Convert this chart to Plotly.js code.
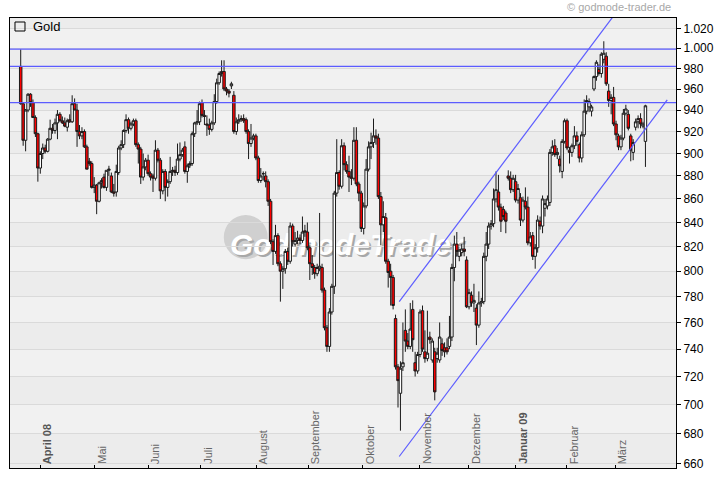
<!DOCTYPE html>
<html>
<head>
<meta charset="utf-8">
<script src="https://cdn.plot.ly/plotly-3.0.1.min.js"></script>
<style>
  html, body { margin: 0; padding: 0; background: #ffffff; }
  #chart { width: 720px; height: 481px; }
</style>
</head>
<body>
<div id="chart"></div>
<script>
// ---- Gold daily candles, March 2008 – March 2009 ----
const openVals = [
  982,946,912,940,955,947,933,918,887,900,905,902,913,923,921,928,936,930,928,924,
  931,929,946,940,920,916,920,906,893,891,870,872,858,874,879,870,885,880,866,866,
  883,905,908,921,931,923,927,930,908,904,879,888,894,882,880,878,903,894,867,884,
  870,875,884,885,883,895,899,906,884,889,891,918,928,929,947,935,927,926,922,928,
  948,966,975,977,960,958,963,
  954,920,929,931,932,931,920,909,914,916,896,876,882,880,875,858,824,816,829,806,
  800,802,816,808,837,822,825,827,825,833,832,819,806,803,798,802,803,785,756,742,
  768,788,865,883,871,
  907,890,884,879,878,912,873,865,835,854,886,906,910,916,914,862,838,844,808,800,
  795,763,727,708,727,754,746,742,770,730,724,736,769,738,733,749,732,738,733,732,
  744,741,741,742,749,
  803,822,812,815,818,809,772,781,775,771,758,775,776,812,822,837,839,860,866,853,
  851,848,880,878,868,875,859,861,842,858,853,823,829,812,819,841,837,852,854,857,
  901,907,899,895,884,
  911,930,903,901,907,916,908,896,917,939,943,939,960,972,979,975,989,992,958,949,
  952,927,916,906,914,937,936,916,901,924,929,932,925,911
];
const highVals = [
  999,947,941,956,956,950,935,919,902,909,908,914,931,927,932,940,938,934,933,932,
  936,954,951,946,926,924,922,908,896,893,879,873,875,878,882,885,889,883,873,890,
  907,912,922,936,933,929,932,932,910,906,900,896,899,884,882,912,905,896,886,886,
  877,897,888,889,909,910,905,911,891,893,920,929,940,948,950,940,935,932,930,955,
  970,977,988,988,962,960,967,
  958,933,936,935,936,933,922,927,918,918,898,887,884,884,877,860,826,838,831,808,
  804,818,819,840,839,832,833,830,845,838,840,821,813,805,806,848,806,787,758,771,
  790,867,913,885,913,
  910,893,898,886,924,924,875,867,857,895,911,919,932,922,918,866,858,848,810,806,
  797,766,729,731,760,770,752,775,777,738,738,770,773,754,769,753,748,741,741,760,
  748,745,748,765,806,
  829,832,818,822,828,812,786,784,790,774,784,779,815,832,840,842,869,884,881,856,
  854,850,885,884,881,881,873,865,862,870,862,832,832,822,846,845,863,860,863,904,
  912,913,905,898,913,
  932,932,906,909,925,920,910,920,950,954,951,945,973,988,984,996,1007,996,965,955,
  962,930,918,917,941,945,940,918,913,932,935,937,929,945
];
const lowVals = [
  945,907,902,938,943,933,915,875,882,895,900,901,912,918,918,913,929,927,924,920,
  928,928,940,906,913,913,905,886,889,869,865,847,857,869,869,867,880,865,862,862,
  881,903,905,919,918,921,925,906,891,873,876,885,880,876,866,876,892,860,864,858,
  862,873,880,880,881,893,897,882,874,887,889,915,926,926,933,926,916,917,920,926,
  946,964,972,958,954,952,960,
  918,917,927,929,928,918,895,906,912,894,874,874,876,870,854,822,805,814,804,776,
  786,798,805,806,820,820,822,822,823,828,817,793,797,794,796,800,783,754,738,738,
  766,782,862,868,869,
  885,882,866,872,876,871,858,832,830,852,884,895,905,908,860,821,832,806,787,773,
  770,725,698,682,724,738,740,740,738,720,722,734,738,730,731,744,730,703,730,730,
  735,734,736,740,746,
  792,812,808,812,812,771,770,772,768,743,756,772,774,808,818,834,836,857,850,832,
  842,831,876,865,866,857,856,837,840,851,821,820,809,802,815,834,831,845,851,854,
  898,897,895,883,878,
  909,903,891,897,904,907,892,892,915,936,938,934,958,968,973,971,985,963,943,936,
  925,912,903,903,912,935,921,893,894,921,923,923,923,888
];
const closeVals = [
  946,912,940,955,947,933,918,887,900,905,902,913,923,921,928,936,930,928,925,930,
  929,946,940,920,916,920,906,886,891,870,872,858,874,876,870,885,886,866,865,884,
  905,908,921,931,923,927,930,908,904,879,888,894,882,879,878,903,894,867,884,870,
  875,884,885,883,895,899,903,884,889,891,918,928,929,946,935,934,926,922,928,948,
  966,975,977,960,958,956,965,
  920,929,931,932,930,920,909,914,916,896,876,880,882,875,858,824,816,829,806,800,
  802,816,808,837,824,825,827,825,832,832,819,806,803,798,803,804,785,756,742,768,
  788,865,883,871,907,
  890,884,879,878,912,873,865,835,854,886,906,910,916,914,862,838,845,808,799,795,
  773,727,717,726,730,746,742,755,747,724,736,768,740,733,737,747,746,709,737,749,
  739,738,738,749,803,
  822,816,817,818,816,772,783,775,777,758,775,776,812,822,837,839,860,868,853,841,
  845,841,878,868,878,859,869,842,859,853,823,828,812,819,842,837,860,856,860,901,
  906,899,901,889,911,
  930,905,901,907,916,911,896,917,939,949,948,943,972,986,975,994,995,965,949,952,
  927,917,906,914,937,941,923,903,910,929,932,927,927,944
];
const dayIndex = closeVals.map((_, i) => i);

// x-axis: month labels and the trading-day position where each month begins
const monthLabels = ['April 08','Mai','Juni','Juli','August','September','Oktober',
                     'November','Dezember','Januar 09','Februar','März'];
const monthTickIdx = [8, 30.2, 52.1, 73.3, 96.2, 117.4, 139.6, 162.7, 182.8, 201.9, 222.9, 242.7];
const yearStart = [true,false,false,false,false,false,false,false,false,true,false,false];

// y-axis ticks (log scale)
const yTickVals = [660,680,700,720,740,760,780,800,820,840,860,880,900,920,940,960,980,1000,1020];
const yTickText = ['660','680','700','720','740','760','780','800','820','840','860','880',
                   '900','920','940','960','980','1.000','1.020'];

// horizontal marks and trend channel (price levels)
const horizLevels = [999, 982, 947];
const channelUpperIdx = [154.5, 244.1];
const channelUpperPrice = [776, 1040];
const channelLowerIdx = [154.5, 263.9];
const channelLowerPrice = [664.6, 949.6];

const xRange = [-4.37, 267.47];
const yRange = [Math.log10(657), Math.log10(1030.7)];

const blue = '#5c5cff';
const traces = [];
traces.push({
  type: 'candlestick',
  x: dayIndex, open: openVals, high: highVals, low: lowVals, close: closeVals,
  increasing: { line: { color: '#1a1a1a', width: 1 }, fillcolor: '#ffffff' },
  decreasing: { line: { color: '#1a1a1a', width: 1 }, fillcolor: '#ff0000' },
  whiskerwidth: 0,
  hoverinfo: 'skip',
  showlegend: false
});
horizLevels.forEach(v => {
  traces.push({ type: 'scatter', mode: 'lines', x: [xRange[0], xRange[1]], y: [v, v],
    line: { color: blue, width: 1.2 }, hoverinfo: 'skip', showlegend: false });
});
traces.push({ type: 'scatter', mode: 'lines', x: channelUpperIdx, y: channelUpperPrice,
  line: { color: blue, width: 1.2 }, hoverinfo: 'skip', showlegend: false });
traces.push({ type: 'scatter', mode: 'lines', x: channelLowerIdx, y: channelLowerPrice,
  line: { color: blue, width: 1.2 }, hoverinfo: 'skip', showlegend: false });

// alternating background bands
const shapes = [];
yTickVals.forEach(t => {
  if (t % 40 === 0 && t < 1020) {
    shapes.push({ type: 'rect', xref: 'paper', yref: 'y', x0: 0, x1: 1, y0: t, y1: t + 20,
      fillcolor: '#f1f1f1', line: { width: 0 }, layer: 'below' });
  }
});
// watermark disc + logo text
shapes.push({ type: 'circle', xref: 'paper', yref: 'paper',
  x0: 0.321, x1: 0.387, y0: 0.464, y1: 0.562,
  fillcolor: '#d0d0d0', line: { width: 0 }, layer: 'below' });
shapes.push({ type: 'rect', xref: 'paper', yref: 'paper',
  x0: 0.408, x1: 0.608, y0: 0.438, y1: 0.558,
  line: { width: 0 }, fillcolor: 'rgba(0,0,0,0)', layer: 'below',
  label: { text: 'GodmodeTrader', textposition: 'middle center',
    font: { family: 'Liberation Sans, Arial', size: 30, color: '#a8a8a8',
            weight: 'bold', style: 'italic' } } });
shapes.push({ type: 'rect', xref: 'paper', yref: 'paper',
  x0: 0.405, x1: 0.605, y0: 0.443, y1: 0.563,
  line: { width: 0 }, fillcolor: 'rgba(0,0,0,0)', layer: 'below',
  label: { text: 'GodmodeTrader', textposition: 'middle center',
    font: { family: 'Liberation Sans, Arial', size: 30, color: '#ffffff',
            weight: 'bold', style: 'italic' } } });
// legend square
shapes.push({ type: 'rect', xref: 'paper', yref: 'paper',
  x0: 0.0075, x1: 0.0225, y0: 0.9711, y1: 0.9911,
  line: { color: '#000000', width: 1 }, fillcolor: 'rgba(0,0,0,0)' });

const annotations = monthLabels.map((lab, i) => ({
  x: monthTickIdx[i], xref: 'x', y: 0, yref: 'paper',
  text: yearStart[i] ? '<b>' + lab + '</b>' : lab,
  textangle: -90, xanchor: 'left', yanchor: 'bottom', showarrow: false,
  yshift: 2, xshift: -1,
  font: { family: 'Liberation Sans, Arial', size: 11, color: yearStart[i] ? '#555555' : '#666666' }
}));
annotations.push({ x: 0.0315, xref: 'paper', y: 0.981, yref: 'paper', text: 'Gold',
  xanchor: 'left', yanchor: 'middle', showarrow: false,
  font: { family: 'Liberation Sans, Arial', size: 13, color: '#000000' } });
annotations.push({ x: 0.9955, xref: 'paper', y: 1.0244, yref: 'paper', text: '© godmode-trader.de',
  xanchor: 'right', yanchor: 'middle', showarrow: false,
  font: { family: 'Liberation Sans, Arial', size: 11, color: '#a8a8a8' } });

const layout = {
  width: 720, height: 481,
  margin: { l: 10, r: 44, t: 18, b: 13, pad: 0 },
  paper_bgcolor: '#ffffff',
  plot_bgcolor: '#ececec',
  showlegend: false,
  boxgap: 0,
  boxgroupgap: 0,
  xaxis: {
    type: 'linear', range: xRange, rangeslider: { visible: false },
    showgrid: false, zeroline: false,
    tickmode: 'array', tickvals: monthTickIdx, ticktext: monthLabels, showticklabels: false,
    ticks: 'inside', ticklen: 3, tickcolor: '#000000',
    showline: true, linecolor: '#000000', linewidth: 1, mirror: true, fixedrange: true
  },
  yaxis: {
    type: 'log', range: yRange, side: 'right',
    tickmode: 'array', tickvals: yTickVals, ticktext: yTickText,
    ticks: 'outside', ticklen: 4, tickcolor: '#000000',
    tickfont: { family: 'Liberation Sans, Arial', size: 12, color: '#000000' },
    showgrid: true, gridcolor: '#dadada', gridwidth: 1, zeroline: false,
    showline: true, linecolor: '#000000', linewidth: 1, mirror: true, fixedrange: true
  },
  shapes: shapes,
  annotations: annotations
};

Plotly.newPlot('chart', traces, layout, { displayModeBar: false, staticPlot: true });
</script>
</body>
</html>
